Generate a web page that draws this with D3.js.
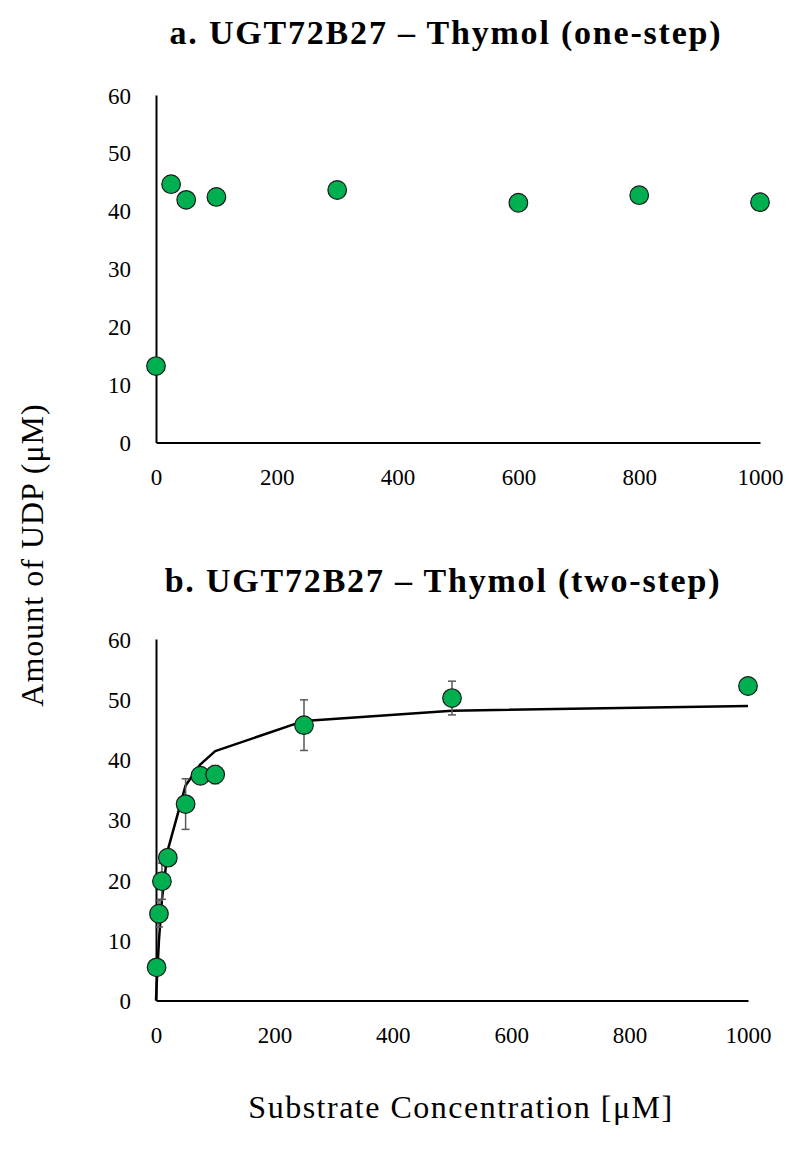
<!DOCTYPE html>
<html>
<head>
<meta charset="utf-8">
<script src="https://cdn.jsdelivr.net/npm/d3@7"></script>
<style>
  html, body { margin: 0; padding: 0; background: #fff; }
  svg { display: block; }
  text { font-family: "Liberation Serif", "DejaVu Serif", serif; fill: #000; }
</style>
</head>
<body>
<svg id="chart" width="789" height="1151"></svg>
<script>
// ---- Data ----
const titleA = "a. UGT72B27 – Thymol (one-step)";
const titleB = "b. UGT72B27 – Thymol (two-step)";
const yAxisTitle = "Amount of UDP (μM)";
const xAxisTitle = "Substrate Concentration [μM]";

const xTicks = [0, 200, 400, 600, 800, 1000];
const yTicks = [0, 10, 20, 30, 40, 50, 60];

// Panel a: one-step
const oneStepConc = [0, 25, 50, 100, 300, 600, 800, 1000];
const oneStepUDP  = [13.2, 44.6, 41.9, 42.4, 43.6, 41.4, 42.7, 41.5];

// Panel b: two-step
const twoStepConc = [1, 5, 10, 20, 50, 75, 100, 250, 500, 1000];
const twoStepUDP  = [5.5, 14.4, 19.8, 23.7, 32.6, 37.3, 37.5, 45.7, 50.2, 52.2];
const twoStepErr  = [0.5, 2.2, 3.0, 1.0, 4.2, 1.2, 1.5, 4.2, 2.8, 0.5];

// Fitted Michaelis–Menten curve
const fitConc = [0, 1, 5, 10, 20, 50, 75, 100, 250, 500, 1000];
const fitUDP  = [0, 2.4, 10.0, 16.7, 25.0, 35.7, 39.2, 41.4, 46.4, 48.1, 48.9];

// ---- Drawing ----
const svg = d3.select("#chart");
const green = "#00B050";

function panel(cfg) {
  const g = svg.append("g");
  const x = d3.scaleLinear().domain([0, 1000]).range([cfg.x0, cfg.x1]);
  const y = d3.scaleLinear().domain([0, 60]).range([cfg.y0, cfg.y1]);

  // title
  g.append("text")
    .attr("x", cfg.titleX).attr("y", cfg.titleY)
    .attr("text-anchor", "middle")
    .style("font-weight", "bold")
    .style("font-size", "34px")
    .style("letter-spacing", "1.8px")
    .text(cfg.title);

  // axes
  const xAxis = d3.axisBottom(x).tickValues(xTicks).tickSize(0).tickPadding(26).tickFormat(d3.format("d"));
  const yAxis = d3.axisLeft(y).tickValues(yTicks).tickSize(0).tickPadding(25).tickFormat(d3.format("d"));

  const gx = g.append("g").attr("transform", `translate(0,${cfg.y0})`).call(xAxis);
  const gy = g.append("g").attr("transform", `translate(${cfg.x0},0)`).call(yAxis);
  [gx, gy].forEach(a => {
    a.select(".domain").attr("stroke", "#000").attr("stroke-width", 2);
    a.selectAll("text").style("font-family", '"Liberation Serif", serif').style("font-size", "23px").attr("fill", "#1a1a1a");
  });
  gy.selectAll("text").attr("dy", "0.35em");

  if (cfg.fitX) {
    const line = d3.line().x((d, i) => x(cfg.fitX[i])).y((d, i) => y(cfg.fitY[i]));
    g.append("path").datum(cfg.fitX)
      .attr("d", line).attr("fill", "none")
      .attr("stroke", "#000").attr("stroke-width", 2.5)
      .attr("stroke-linejoin", "round");
  }

  if (cfg.err) {
    const eb = g.append("g").attr("stroke", "#595959").attr("stroke-width", 1.5);
    cfg.xs.forEach((c, i) => {
      const e = cfg.err[i];
      const top = y(cfg.ys[i] + e), bot = y(cfg.ys[i] - e), cx = x(c);
      eb.append("line").attr("x1", cx).attr("x2", cx).attr("y1", top).attr("y2", bot);
      eb.append("line").attr("x1", cx - 4).attr("x2", cx + 4).attr("y1", top).attr("y2", top);
      eb.append("line").attr("x1", cx - 4).attr("x2", cx + 4).attr("y1", bot).attr("y2", bot);
    });
  }

  g.append("g").selectAll("circle").data(cfg.xs).join("circle")
    .attr("cx", d => x(d))
    .attr("cy", (d, i) => y(cfg.ys[i]))
    .attr("r", 9.3)
    .attr("fill", green)
    .attr("stroke", "#1a1a1a")
    .attr("stroke-width", 1.2);
}

panel({
  title: titleA, titleX: 446, titleY: 44,
  x0: 156, x1: 760, y0: 442.5, y1: 95,
  xs: oneStepConc, ys: oneStepUDP
});

panel({
  title: titleB, titleX: 443, titleY: 592,
  x0: 156, x1: 748, y0: 1000.5, y1: 639,
  xs: twoStepConc, ys: twoStepUDP, err: twoStepErr,
  fitX: fitConc, fitY: fitUDP
});

// axis titles
svg.append("text")
  .attr("transform", "translate(43,555) rotate(-90)")
  .attr("text-anchor", "middle")
  .style("font-size", "32px")
  .style("letter-spacing", "1px")
  .text(yAxisTitle);

svg.append("text")
  .attr("x", 461).attr("y", 1118)
  .attr("text-anchor", "middle")
  .style("font-size", "32px")
  .style("letter-spacing", "1.5px")
  .text(xAxisTitle);
</script>
</body>
</html>
